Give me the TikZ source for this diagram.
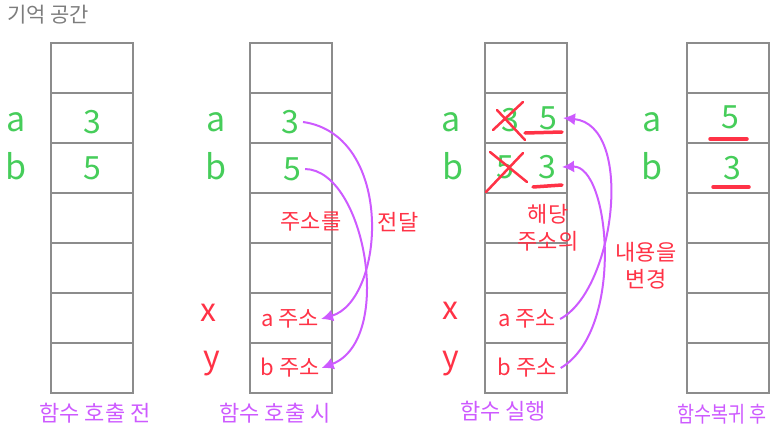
\documentclass[tikz,border=0pt]{standalone}
\usepackage{fontspec}
\usepackage{graphicx}
\setmainfont{Noto Sans CJK KR}
\usetikzlibrary{arrows.meta}
\definecolor{gridgray}{RGB}{140,140,140}
\definecolor{titlegray}{RGB}{125,125,125}
\definecolor{hgreen}{RGB}{70,205,90}
\definecolor{hred}{RGB}{255,50,70}
\definecolor{hpurple}{RGB}{205,90,255}
\begin{document}
\begin{tikzpicture}[x=1pt,y=-1pt,
  cell/.style={draw=gridgray,line width=2.5pt,minimum width=82pt,minimum height=50pt,inner sep=0pt,outer sep=0pt},
  val/.style={font=\fontsize{32}{32}\selectfont,text=hgreen,inner sep=0pt},
  varg/.style={font=\fontsize{34}{34}\selectfont,text=hgreen,inner sep=0pt},
  varr/.style={font=\fontsize{32}{32}\selectfont,text=hred,inner sep=0pt},
  addr/.style={font=\fontsize{22}{22}\selectfont,text=hred,inner sep=0pt},
  note/.style={font=\fontsize{22}{27}\selectfont,text=hred,inner sep=0pt,align=center},
  caption/.style={font=\fontsize{22}{22}\selectfont,text=hpurple,inner sep=0pt},
  xmark/.style={draw=hred,line width=2.5pt,line cap=round},
  uline/.style={draw=hred,line width=3.5pt,line cap=round},
  parrow/.style={draw=hpurple,line width=2pt,-{Latex[length=12pt,width=12pt]}}
]
\useasboundingbox (0,0) rectangle (776,439);
% grid
\foreach \cx/\c in {92/1,291/2,526/3,728/4}{
  \foreach \r in {1,...,7}{
    \node[cell] (c\c r\r) at (\cx,18+50*\r) {};
  }
}
% title
\node[font=\fontsize{21}{21}\selectfont,text=titlegray,inner sep=0pt] (title) at (48,15) {기억 공간};
% column 1
\node[varg] (la1) at (16,122) {a};
\node[varg] (lb1) at (16,166) {b};
\node[val] (v1a) at (92,122) {3};
\node[val] (v1b) at (92,168) {5};
% column 2
\node[varg] (la2) at (216,122) {a};
\node[varg] (lb2) at (216,166) {b};
\node[val] (v2a) at (290,122) {3};
\node[val] (v2b) at (292,169) {5};
\node[varr] (lx2) at (208,313) {x};
\node[varr] (ly2) at (212,364) {y};
\node[addr] (ax2) at (290,319) {a 주소};
\node[addr] (ay2) at (290,368) {b 주소};
% column 3
\node[varg] (la3) at (451,122) {a};
\node[varg] (lb3) at (453,166) {b};
\node[val] (o3a) at (510,120) {3};
\node[val] (n3a) at (548,118) {5};
\node[val] (o3b) at (505,167) {5};
\node[val] (n3b) at (547,167) {3};
\node[varr] (lx3) at (450,311) {x};
\node[varr] (ly3) at (451,364) {y};
\node[addr] (ax3) at (527,319) {a 주소};
\node[addr] (ay3) at (527,368) {b 주소};
% column 4
\node[varg] (la4) at (652,122) {a};
\node[varg] (lb4) at (652,166) {b};
\node[val] (v4a) at (730,117) {5};
\node[val] (v4b) at (732,168) {3};
% crosses and underlines
\draw[xmark] (493,130) -- (523,102);
\draw[xmark] (497,110) -- (525,140);
\draw[xmark] (486,192) -- (523,153);
\draw[xmark] (490,152) -- (527,182);
\draw[uline] (525,133) -- (562,132);
\draw[uline] (533,187) -- (562,185);
\draw[uline] (710,139) -- (747,139);
\draw[uline] (713,187) -- (749,187);
% notes
\node[note] (n1a) at (311,222) {주소를};
\node[note] (n1b) at (398,222) {전달};
\node[note] (n2) at (548,228) {해당\\주소의};
\node[note] (n3) at (646,266) {내용을\\변경};
% arrows column 2
\draw[parrow] ([xshift=4pt]v2a.east) .. controls (395,135) and (385,300) .. ([xshift=2pt]ax2.east);
\draw[parrow] ([xshift=4pt]v2b.east) .. controls (365,170) and (395,340) .. ([xshift=2pt]ay2.east);
% arrows column 3
\draw[parrow] ([xshift=4pt]ax3.east) .. controls (615,290) and (635,125) .. ([xshift=6pt]n3a.east);
\draw[parrow] ([xshift=4pt]ay3.east) .. controls (625,330) and (610,165) .. ([xshift=6pt]n3b.east);
% captions
\node[caption] (cap1) at (95,413) {함수 호출 전};
\node[caption] (cap2) at (275,413) {함수 호출 시};
\node[caption] (cap3) at (503,411) {함수 실행};
\node[caption] (cap4) at (722,414) {\scalebox{0.84}[1]{함수복귀 후}};
\end{tikzpicture}
\end{document}
